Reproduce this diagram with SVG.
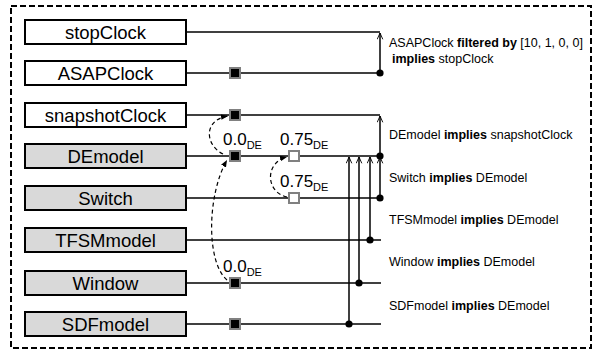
<svg xmlns="http://www.w3.org/2000/svg" width="594" height="352" viewBox="0 0 594 352">
<style>
.box{stroke:#000;stroke-width:2}
.w{fill:#fff}
.g{fill:#d9d9d9}
.nl{font-family:"Liberation Sans",Arial,sans-serif;font-size:18.5px;text-anchor:middle;fill:#000}
.ln{stroke:#000;stroke-width:1.5;fill:none}
.dash{stroke:#000;stroke-width:1.2;fill:none;stroke-dasharray:4,3}
.sqb{fill:#000;stroke:#808080;stroke-width:2}
.sqw{fill:#fff;stroke:#808080;stroke-width:2}
.rt{font-family:"Liberation Sans",Arial,sans-serif;font-size:12.5px;fill:#000}
.b{font-weight:bold}
.lab{font-family:"Liberation Sans",Arial,sans-serif;font-size:17px;fill:#000}
.sub{font-size:11px}
</style>
<defs>
<marker id="oa" viewBox="0 0 10 10" refX="10" refY="5" markerWidth="7" markerHeight="7" orient="auto" markerUnits="userSpaceOnUse">
<path d="M1,1 L10,5 L1,9" fill="none" stroke="#000" stroke-width="1.3"/>
</marker>
<marker id="fa" viewBox="0 0 10 10" refX="10" refY="5" markerWidth="7" markerHeight="7" orient="auto" markerUnits="userSpaceOnUse">
<path d="M0,1 L10,5 L0,9 Z" fill="#000"/>
</marker>
</defs>
<rect x="11" y="6" width="580" height="342" fill="none" stroke="#000" stroke-width="2" stroke-dasharray="6,3"/>

<g id="connectors">
<path class="ln" d="M186,32 H380"/>
<path class="ln" d="M186,73 H380"/>
<path class="ln" d="M186,115 H380"/>
<path class="ln" d="M186,156 H380"/>
<path class="ln" d="M186,198 H380"/>
<path class="ln" d="M186,240 H381"/>
<path class="ln" d="M186,283 H381"/>
<path class="ln" d="M186,324 H381"/>
<path class="ln" d="M380,73 V33" marker-end="url(#oa)"/>
<path class="ln" d="M380,156 V116" marker-end="url(#oa)"/>
<path class="ln" d="M380,198 V157" marker-end="url(#oa)"/>
<path class="ln" d="M370,240 V157" marker-end="url(#oa)"/>
<path class="ln" d="M359,283 V157" marker-end="url(#oa)"/>
<path class="ln" d="M349,324 V157" marker-end="url(#oa)"/>
<circle cx="380" cy="73" r="3.6"/>
<circle cx="380" cy="156" r="3.6"/>
<circle cx="380" cy="198" r="3.6"/>
<circle cx="370" cy="240" r="3.6"/>
<circle cx="359" cy="283" r="3.6"/>
<circle cx="349" cy="324" r="3.6"/>
<path class="dash" d="M223,154 C205,145 203,120 228,116" marker-end="url(#fa)"/>
<path class="dash" d="M227,280 C206,262 207,195 227,160" marker-end="url(#fa)"/>
<path class="dash" d="M287,197 C265,192 265,162 287,157" marker-end="url(#fa)"/>
<rect class="sqb" x="230" y="68" width="10" height="10"/>
<rect class="sqb" x="230" y="110" width="10" height="10"/>
<rect class="sqb" x="230" y="151" width="10" height="10"/>
<rect class="sqw" x="289" y="151" width="10" height="10"/>
<rect class="sqw" x="289" y="193" width="10" height="10"/>
<rect class="sqb" x="230" y="278" width="10" height="10"/>
<rect class="sqb" x="230" y="319" width="10" height="10"/>
<text class="lab" x="223" y="145">0.0<tspan class="sub" dy="4">DE</tspan></text>
<text class="lab" x="280" y="145">0.75<tspan class="sub" dy="4">DE</tspan></text>
<text class="lab" x="280" y="187">0.75<tspan class="sub" dy="4">DE</tspan></text>
<text class="lab" x="223" y="272">0.0<tspan class="sub" dy="4">DE</tspan></text>
<text class="rt" x="389" y="47">ASAPClock <tspan class="b">filtered by</tspan> [10, 1, 0, 0]</text>
<text class="rt" x="392" y="63"><tspan class="b">implies</tspan> stopClock</text>
<text class="rt" x="389" y="139">DEmodel <tspan class="b">implies</tspan> snapshotClock</text>
<text class="rt" x="389" y="182">Switch <tspan class="b">implies</tspan> DEmodel</text>
<text class="rt" x="389" y="224">TFSMmodel <tspan class="b">implies</tspan> DEmodel</text>
<text class="rt" x="389" y="266">Window <tspan class="b">implies</tspan> DEmodel</text>
<text class="rt" x="389" y="310">SDFmodel <tspan class="b">implies</tspan> DEmodel</text>
</g>

<g id="stopClock"><rect class="box w" x="25" y="20" width="161" height="24"/><text class="nl" x="105.5" y="38.5">stopClock</text></g>
<g id="ASAPClock"><rect class="box w" x="25" y="61" width="161" height="24"/><text class="nl" x="105.5" y="79.5">ASAPClock</text></g>
<g id="snapshotClock"><rect class="box w" x="25" y="103" width="161" height="24"/><text class="nl" x="105.5" y="121.5">snapshotClock</text></g>
<g id="DEmodel"><rect class="box g" x="25" y="144" width="161" height="24"/><text class="nl" x="105.5" y="162.5">DEmodel</text></g>
<g id="Switch"><rect class="box g" x="25" y="186" width="161" height="24"/><text class="nl" x="105.5" y="204.5">Switch</text></g>
<g id="TFSMmodel"><rect class="box g" x="25" y="228" width="161" height="24"/><text class="nl" x="105.5" y="246.5">TFSMmodel</text></g>
<g id="Window"><rect class="box g" x="25" y="271" width="161" height="24"/><text class="nl" x="105.5" y="289.5">Window</text></g>
<g id="SDFmodel"><rect class="box g" x="25" y="312" width="161" height="24"/><text class="nl" x="105.5" y="330.5">SDFmodel</text></g>
</svg>
